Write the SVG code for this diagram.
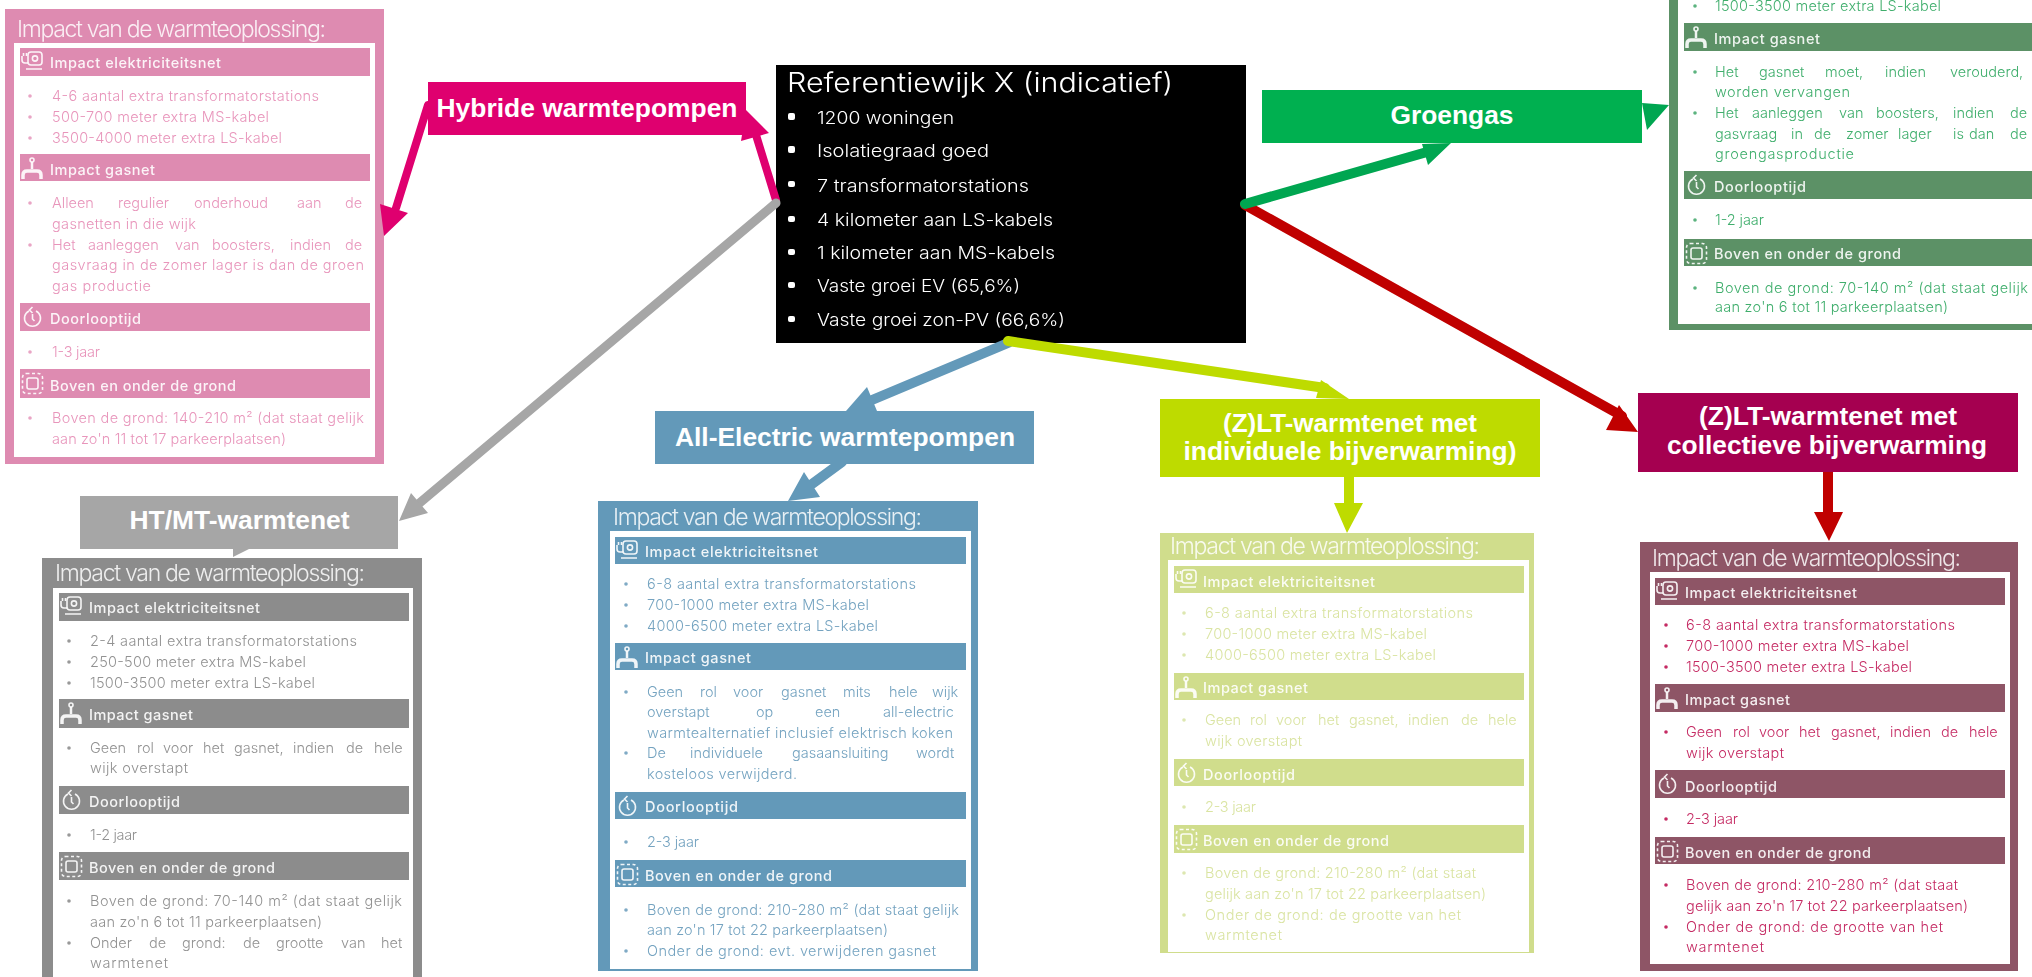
<svg xmlns="http://www.w3.org/2000/svg" width="2032" height="977" viewBox="0 0 2032 977">
<style>
text{font-family:"Inter","Lato","Liberation Sans",sans-serif}
.inner{fill:#fff}
.title{font-size:23px;font-weight:300;fill:#fff;fill-opacity:.85}
.hd{font-size:14.5px;font-weight:500;fill:#fff;fill-opacity:.9}
.li{font-size:14.5px;font-weight:300}
.pk .frame,.pk .bar{fill:#DE8BB1}.pk .li{fill:#E895BB}.pk circle{fill:#E9A5C5}
.gy .frame,.gy .bar{fill:#8C8C8C}.gy .li{fill:#929292}.gy circle{fill:#999}
.bl .frame,.bl .bar{fill:#6399B9}.bl .li{fill:#74A3C0}.bl circle{fill:#7FAAC5}
.gn .frame,.gn .bar{fill:#5C9166}.gn .li{fill:#3FAE6C}.gn circle{fill:#5BB37F}
.lm .frame,.lm .bar{fill:#D0DD8C}.lm .li{fill:#DAE4A2}.lm circle{fill:#DDE7B0}
.mg .frame,.mg .bar{fill:#8E5566}.mg .li{fill:#C52A63}.mg circle{fill:#C52A63}
.ic{fill:none;stroke:#fff;stroke-opacity:.9;stroke-width:1.6}
.lab{font-family:"Liberation Sans",Arial,sans-serif;font-weight:700;font-size:26px;fill:#fff;text-anchor:middle}
.box{font-weight:300;fill:#fff}
.c{fill:none;stroke-linecap:round}
</style>
<defs>
<filter id="soft" x="0" y="0" width="1" height="1"><feGaussianBlur stdDeviation="0.5"/></filter>
<g id="ic-plug" class="ic"><rect x="8" y="4" width="14" height="13" rx="3"/><circle cx="15" cy="10.500" r="2.600"/><path d="M2 8v4q0 3 3 3h3M3.500 8v-3M6.500 8v-3M6 21h16"/></g>
<g id="ic-gas" class="ic"><circle cx="12" cy="6" r="2"/><path d="M12 8v7" style="stroke-width:2.500"/><path d="M3 25v-4q0-4 4-4h10q4 0 4 4v4" style="stroke-width:3.500"/></g>
<g id="ic-clock" class="ic"><path d="M9 8a8 8 0 1 0 7 0M12.500 4l-3 3 3 3M12.500 11v5l2 2"/></g>
<g id="ic-ground" class="ic"><rect x="2.500" y="4.500" width="20" height="20" rx="4" stroke-dasharray="3 2.500"/><rect x="7" y="9" width="11" height="11" rx="2"/></g>
</defs>
<rect width="2032" height="977" fill="#fff"/>

<g id="panel-hybride" class="pk" filter="url(#soft)">
<rect class="frame" x="5" y="9" width="379" height="455"/><rect class="inner" x="14" y="43" width="361" height="414"/>
<text class="title" x="17" y="37" textLength="309">Impact van de warmteoplossing:</text>
<rect class="bar" x="20" y="48" width="350" height="28"/><rect class="bar" x="20" y="154" width="350" height="27"/><rect class="bar" x="20" y="303" width="350" height="28"/><rect class="bar" x="20" y="369" width="350" height="29"/>
<use href="#ic-plug" x="20" y="48"/><use href="#ic-gas" x="20" y="154"/><use href="#ic-clock" x="20" y="303"/><use href="#ic-ground" x="20" y="369"/>
<text class="hd" x="50" y="68" textLength="171">Impact elektriciteitsnet</text><text class="hd" x="50" y="175" textLength="105">Impact gasnet</text><text class="hd" x="50" y="324" textLength="91">Doorlooptijd</text><text class="hd" x="50" y="391" textLength="186">Boven en onder de grond</text>
<circle cx="30" cy="96" r="1.800"/><circle cx="30" cy="117" r="1.800"/><circle cx="30" cy="138" r="1.800"/><circle cx="30" cy="203" r="1.800"/><circle cx="30" cy="245" r="1.800"/><circle cx="30" cy="352" r="1.800"/><circle cx="30" cy="418" r="1.800"/>
<text class="li" x="52" y="101" textLength="267">4-6 aantal extra transformatorstations</text>
<text class="li" x="52" y="122" textLength="217">500-700 meter extra MS-kabel</text>
<text class="li" x="52" y="143" textLength="230">3500-4000 meter extra LS-kabel</text>
<text class="li" y="208"><tspan x="52">Alleen</tspan><tspan x="118">regulier</tspan><tspan x="194">onderhoud</tspan><tspan x="297">aan</tspan><tspan x="345">de</tspan></text>
<text class="li" x="52" y="229" textLength="144">gasnetten in die wijk</text>
<text class="li" y="250"><tspan x="52">Het</tspan><tspan x="88">aanleggen</tspan><tspan x="175">van</tspan><tspan x="212">boosters,</tspan><tspan x="290">indien</tspan><tspan x="345">de</tspan></text>
<text class="li" x="52" y="270" textLength="312">gasvraag in de zomer lager is dan de groen</text>
<text class="li" x="52" y="291" textLength="99">gas productie</text>
<text class="li" x="52" y="357" textLength="48">1-3 jaar</text>
<text class="li" x="52" y="423" textLength="312">Boven de grond: 140-210 m² (dat staat gelijk</text>
<text class="li" x="52" y="444" textLength="234">aan zo'n 11 tot 17 parkeerplaatsen)</text>
</g>

<g id="panel-ht-mt" class="gy" filter="url(#soft)">
<rect class="frame" x="42" y="558" width="380" height="419"/><rect class="inner" x="53" y="588" width="360" height="389"/>
<text class="title" x="55" y="581" textLength="310">Impact van de warmteoplossing:</text>
<rect class="bar" x="59" y="593" width="350" height="28"/><rect class="bar" x="59" y="699" width="350" height="29"/><rect class="bar" x="59" y="786" width="350" height="28"/><rect class="bar" x="59" y="852" width="350" height="28"/>
<use href="#ic-plug" x="59" y="593"/><use href="#ic-gas" x="59" y="699"/><use href="#ic-clock" x="59" y="786"/><use href="#ic-ground" x="59" y="852"/>
<text class="hd" x="89" y="613" textLength="171">Impact elektriciteitsnet</text><text class="hd" x="89" y="720" textLength="104">Impact gasnet</text><text class="hd" x="89" y="807" textLength="91">Doorlooptijd</text><text class="hd" x="89" y="873" textLength="186">Boven en onder de grond</text>
<circle cx="69" cy="641" r="1.800"/><circle cx="69" cy="662" r="1.800"/><circle cx="69" cy="683" r="1.800"/><circle cx="69" cy="748" r="1.800"/><circle cx="69" cy="835" r="1.800"/><circle cx="69" cy="901" r="1.800"/><circle cx="69" cy="943" r="1.800"/>
<text class="li" x="90" y="646" textLength="267">2-4 aantal extra transformatorstations</text>
<text class="li" x="90" y="667" textLength="216">250-500 meter extra MS-kabel</text>
<text class="li" x="90" y="688" textLength="225">1500-3500 meter extra LS-kabel</text>
<text class="li" y="753"><tspan x="90">Geen</tspan><tspan x="137">rol</tspan><tspan x="163">voor</tspan><tspan x="203">het</tspan><tspan x="234">gasnet,</tspan><tspan x="293">indien</tspan><tspan x="346">de</tspan><tspan x="374">hele</tspan></text>
<text class="li" x="90" y="773" textLength="98">wijk overstapt</text>
<text class="li" x="90" y="840" textLength="47">1-2 jaar</text>
<text class="li" x="90" y="906" textLength="312">Boven de grond: 70-140 m² (dat staat gelijk</text>
<text class="li" x="90" y="927" textLength="232">aan zo'n 6 tot 11 parkeerplaatsen)</text>
<text class="li" y="948"><tspan x="90">Onder</tspan><tspan x="149">de</tspan><tspan x="182">grond:</tspan><tspan x="243">de</tspan><tspan x="276">grootte</tspan><tspan x="341">van</tspan><tspan x="381">het</tspan></text>
<text class="li" x="90" y="968" textLength="78">warmtenet</text>
</g>

<g id="panel-all-electric" class="bl" filter="url(#soft)">
<rect class="frame" x="598" y="501" width="380" height="470"/><rect class="inner" x="610" y="531" width="361" height="438"/>
<text class="title" x="613" y="525" textLength="309">Impact van de warmteoplossing:</text>
<rect class="bar" x="615" y="537" width="351" height="27"/><rect class="bar" x="615" y="643" width="351" height="27"/><rect class="bar" x="615" y="792" width="351" height="27"/><rect class="bar" x="615" y="860" width="351" height="27"/>
<use href="#ic-plug" x="615" y="537"/><use href="#ic-gas" x="615" y="643"/><use href="#ic-clock" x="615" y="792"/><use href="#ic-ground" x="615" y="860"/>
<text class="hd" x="645" y="557" textLength="173">Impact elektriciteitsnet</text><text class="hd" x="645" y="663" textLength="106">Impact gasnet</text><text class="hd" x="645" y="812" textLength="93">Doorlooptijd</text><text class="hd" x="645" y="881" textLength="187">Boven en onder de grond</text>
<circle cx="626" cy="584" r="1.800"/><circle cx="626" cy="605" r="1.800"/><circle cx="626" cy="626" r="1.800"/><circle cx="626" cy="692" r="1.800"/><circle cx="626" cy="753" r="1.800"/><circle cx="626" cy="842" r="1.800"/><circle cx="626" cy="910" r="1.800"/><circle cx="626" cy="951" r="1.800"/>
<text class="li" x="647" y="589" textLength="269">6-8 aantal extra transformatorstations</text>
<text class="li" x="647" y="610" textLength="222">700-1000 meter extra MS-kabel</text>
<text class="li" x="647" y="631" textLength="231">4000-6500 meter extra LS-kabel</text>
<text class="li" y="697"><tspan x="647">Geen</tspan><tspan x="700">rol</tspan><tspan x="733">voor</tspan><tspan x="781">gasnet</tspan><tspan x="843">mits</tspan><tspan x="889">hele</tspan><tspan x="932">wijk</tspan></text>
<text class="li" y="717"><tspan x="647">overstapt</tspan><tspan x="756">op</tspan><tspan x="815">een</tspan><tspan x="883">all-electric</tspan></text>
<text class="li" x="647" y="738" textLength="306">warmtealternatief inclusief elektrisch koken</text>
<text class="li" y="758"><tspan x="647">De</tspan><tspan x="690">individuele</tspan><tspan x="792">gasaansluiting</tspan><tspan x="916">wordt</tspan></text>
<text class="li" x="647" y="779" textLength="150">kosteloos verwijderd.</text>
<text class="li" x="647" y="847" textLength="52">2-3 jaar</text>
<text class="li" x="647" y="915" textLength="312">Boven de grond: 210-280 m² (dat staat gelijk</text>
<text class="li" x="647" y="935" textLength="241">aan zo'n 17 tot 22 parkeerplaatsen)</text>
<text class="li" x="647" y="956" textLength="289">Onder de grond: evt. verwijderen gasnet</text>
</g>

<g id="panel-lt-individueel" class="lm" filter="url(#soft)">
<rect class="frame" x="1160" y="533" width="374" height="420"/><rect class="inner" x="1168" y="560" width="361" height="392"/>
<text class="title" x="1170" y="554" textLength="310">Impact van de warmteoplossing:</text>
<rect class="bar" x="1174" y="566" width="350" height="27"/><rect class="bar" x="1174" y="673" width="350" height="27"/><rect class="bar" x="1174" y="759" width="350" height="27"/><rect class="bar" x="1174" y="825" width="350" height="28"/>
<use href="#ic-plug" x="1174" y="566"/><use href="#ic-gas" x="1174" y="673"/><use href="#ic-clock" x="1174" y="759"/><use href="#ic-ground" x="1174" y="825"/>
<text class="hd" x="1203" y="587" textLength="172">Impact elektriciteitsnet</text><text class="hd" x="1203" y="693" textLength="105">Impact gasnet</text><text class="hd" x="1203" y="780" textLength="92">Doorlooptijd</text><text class="hd" x="1203" y="846" textLength="186">Boven en onder de grond</text>
<circle cx="1184" cy="613" r="1.800"/><circle cx="1184" cy="634" r="1.800"/><circle cx="1184" cy="655" r="1.800"/><circle cx="1184" cy="720" r="1.800"/><circle cx="1184" cy="807" r="1.800"/><circle cx="1184" cy="873" r="1.800"/><circle cx="1184" cy="915" r="1.800"/>
<text class="li" x="1205" y="618" textLength="268">6-8 aantal extra transformatorstations</text>
<text class="li" x="1205" y="639" textLength="222">700-1000 meter extra MS-kabel</text>
<text class="li" x="1205" y="660" textLength="231">4000-6500 meter extra LS-kabel</text>
<text class="li" y="725"><tspan x="1205">Geen</tspan><tspan x="1250">rol</tspan><tspan x="1276">voor</tspan><tspan x="1318">het</tspan><tspan x="1349">gasnet,</tspan><tspan x="1408">indien</tspan><tspan x="1461">de</tspan><tspan x="1488">hele</tspan></text>
<text class="li" x="1205" y="746" textLength="97">wijk overstapt</text>
<text class="li" x="1205" y="812" textLength="51">2-3 jaar</text>
<text class="li" x="1205" y="878" textLength="271">Boven de grond: 210-280 m² (dat staat</text>
<text class="li" x="1205" y="899" textLength="281">gelijk aan zo'n 17 tot 22 parkeerplaatsen)</text>
<text class="li" x="1205" y="920" textLength="256">Onder de grond: de grootte van het</text>
<text class="li" x="1205" y="940" textLength="77">warmtenet</text>
</g>

<g id="panel-lt-collectief" class="mg" filter="url(#soft)">
<rect class="frame" x="1640" y="542" width="378" height="429"/><rect class="inner" x="1650" y="572" width="360" height="392"/>
<text class="title" x="1652" y="566" textLength="309">Impact van de warmteoplossing:</text>
<rect class="bar" x="1655" y="578" width="350" height="27"/><rect class="bar" x="1655" y="684" width="350" height="28"/><rect class="bar" x="1655" y="770" width="350" height="28"/><rect class="bar" x="1655" y="837" width="350" height="27"/>
<use href="#ic-plug" x="1655" y="578"/><use href="#ic-gas" x="1655" y="684"/><use href="#ic-clock" x="1655" y="770"/><use href="#ic-ground" x="1655" y="837"/>
<text class="hd" x="1685" y="598" textLength="172">Impact elektriciteitsnet</text><text class="hd" x="1685" y="705" textLength="105">Impact gasnet</text><text class="hd" x="1685" y="792" textLength="92">Doorlooptijd</text><text class="hd" x="1685" y="858" textLength="186">Boven en onder de grond</text>
<circle cx="1666" cy="625" r="1.800"/><circle cx="1666" cy="646" r="1.800"/><circle cx="1666" cy="667" r="1.800"/><circle cx="1666" cy="732" r="1.800"/><circle cx="1666" cy="819" r="1.800"/><circle cx="1666" cy="885" r="1.800"/><circle cx="1666" cy="927" r="1.800"/>
<text class="li" x="1686" y="630" textLength="269">6-8 aantal extra transformatorstations</text>
<text class="li" x="1686" y="651" textLength="223">700-1000 meter extra MS-kabel</text>
<text class="li" x="1686" y="672" textLength="226">1500-3500 meter extra LS-kabel</text>
<text class="li" y="737"><tspan x="1686">Geen</tspan><tspan x="1733">rol</tspan><tspan x="1759">voor</tspan><tspan x="1799">het</tspan><tspan x="1831">gasnet,</tspan><tspan x="1890">indien</tspan><tspan x="1941">de</tspan><tspan x="1969">hele</tspan></text>
<text class="li" x="1686" y="758" textLength="98">wijk overstapt</text>
<text class="li" x="1686" y="824" textLength="52">2-3 jaar</text>
<text class="li" x="1686" y="890" textLength="272">Boven de grond: 210-280 m² (dat staat</text>
<text class="li" x="1686" y="911" textLength="282">gelijk aan zo'n 17 tot 22 parkeerplaatsen)</text>
<text class="li" x="1686" y="932" textLength="257">Onder de grond: de grootte van het</text>
<text class="li" x="1686" y="952" textLength="78">warmtenet</text>
</g>

<g id="panel-groengas" class="gn" filter="url(#soft)">
<rect class="frame" x="1669" y="-2" width="365" height="332"/><rect class="inner" x="1678" y="-2" width="356" height="326"/>
<rect class="bar" x="1684" y="23" width="350" height="28"/><rect class="bar" x="1684" y="171" width="350" height="28"/><rect class="bar" x="1684" y="239" width="350" height="27"/>
<use href="#ic-gas" x="1684" y="23"/><use href="#ic-clock" x="1684" y="171"/><use href="#ic-ground" x="1684" y="239"/>
<text class="hd" x="1714" y="44" textLength="106">Impact gasnet</text><text class="hd" x="1714" y="192" textLength="92">Doorlooptijd</text><text class="hd" x="1714" y="259" textLength="187">Boven en onder de grond</text>
<circle cx="1695" cy="6" r="1.800"/><circle cx="1695" cy="72" r="1.800"/><circle cx="1695" cy="113" r="1.800"/><circle cx="1695" cy="220" r="1.800"/><circle cx="1695" cy="288" r="1.800"/>
<text class="li" x="1715" y="11" textLength="226">1500-3500 meter extra LS-kabel</text>
<text class="li" y="77"><tspan x="1715">Het</tspan><tspan x="1759">gasnet</tspan><tspan x="1825">moet,</tspan><tspan x="1885">indien</tspan><tspan x="1950">verouderd,</tspan></text>
<text class="li" x="1715" y="97" textLength="135">worden vervangen</text>
<text class="li" y="118"><tspan x="1715">Het</tspan><tspan x="1752">aanleggen</tspan><tspan x="1839">van</tspan><tspan x="1876">boosters,</tspan><tspan x="1953">indien</tspan><tspan x="2010">de</tspan></text>
<text class="li" y="139"><tspan x="1715">gasvraag</tspan><tspan x="1791">in</tspan><tspan x="1814">de</tspan><tspan x="1846">zomer</tspan><tspan x="1898">lager</tspan><tspan x="1953">is</tspan><tspan x="1969">dan</tspan><tspan x="2010">de</tspan></text>
<text class="li" x="1715" y="159" textLength="139">groengasproductie</text>
<text class="li" x="1715" y="225" textLength="49">1-2 jaar</text>
<text class="li" x="1715" y="293" textLength="313">Boven de grond: 70-140 m² (dat staat gelijk</text>
<text class="li" x="1715" y="312" textLength="233">aan zo'n 6 tot 11 parkeerplaatsen)</text>
</g>

<g id="referentiewijk">
<rect x="776" y="65" width="470" height="278" fill="#000"/>
<g class="box" filter="url(#soft)">
<text x="787" y="92" font-size="27" textLength="386" lengthAdjust="spacingAndGlyphs">Referentiewijk X (indicatief)</text>
<g fill="#fff"><rect x="788" y="113" width="7" height="7" rx="2"/><rect x="788" y="146" width="7" height="7" rx="2"/><rect x="788" y="181" width="7" height="6" rx="2"/><rect x="788" y="216" width="7" height="6" rx="2"/><rect x="788" y="249" width="7" height="6" rx="2"/><rect x="788" y="282" width="7" height="6" rx="2"/><rect x="788" y="316" width="7" height="6" rx="2"/></g>
<text x="817" y="124" font-size="17" textLength="137" lengthAdjust="spacingAndGlyphs">1200 woningen</text>
<text x="817" y="157" font-size="17" textLength="172" lengthAdjust="spacingAndGlyphs">Isolatiegraad goed</text>
<text x="817" y="192" font-size="17" textLength="212" lengthAdjust="spacingAndGlyphs">7 transformatorstations</text>
<text x="817" y="226" font-size="17" textLength="236" lengthAdjust="spacingAndGlyphs">4 kilometer aan LS-kabels</text>
<text x="817" y="259" font-size="17" textLength="238" lengthAdjust="spacingAndGlyphs">1 kilometer aan MS-kabels</text>
<text x="817" y="292" font-size="17" textLength="203" lengthAdjust="spacingAndGlyphs">Vaste groei EV (65,6%)</text>
<text x="817" y="326" font-size="17" textLength="248" lengthAdjust="spacingAndGlyphs">Vaste groei zon-PV (66,6%)</text>
</g>
</g>

<g id="connectors">
<path class="c" d="M1245 205L1622 416M1828 465V514" stroke="#C00000" stroke-width="10"/>
<path fill="#C00000" d="M1638 432L1606 430L1619 405ZM1829 541L1814 512H1843Z"/>
<path class="c" d="M1008 343L872 400M842 462L812 484" stroke="#6399B9" stroke-width="10"/>
<path fill="#6399B9" d="M867 387L877 411L840 425L846 411ZM804 472L820 497L788 501Z"/>
<path class="c" d="M1008 341L1325 388M1349 470V505" stroke="#BEDB00" stroke-width="10"/>
<path fill="#BEDB00" d="M1321 380L1349 399L1316 398ZM1347 533L1334 503H1363Z"/>
<path class="c" d="M1245 204L1434 150" stroke="#00A651" stroke-width="10"/>
<path fill="#00A651" d="M1422 144L1451 143L1428 165ZM1669 105L1642 103L1647 130Z"/>
<path class="c" d="M776 200L756 135M428 105L396 208" stroke="#DF006F" stroke-width="8"/>
<path fill="#DF006F" d="M769 133L741 141L746 110ZM384 236L380 204L408 213Z"/>
<path class="c" d="M776 203L416 506" stroke="#A6A6A6" stroke-width="9"/>
<path fill="#A6A6A6" d="M399 521L411 493L428 513ZM233 549H249L233 557Z"/>
</g>

<g id="label-hybride"><rect x="428" y="82" width="318" height="53" fill="#DF006F"/><text class="lab" x="587" y="117" textLength="301" lengthAdjust="spacingAndGlyphs">Hybride warmtepompen</text></g>
<g id="label-all-electric"><rect x="655" y="411" width="379" height="53" fill="#6399B9"/><text class="lab" x="845" y="446" textLength="340" lengthAdjust="spacingAndGlyphs">All-Electric warmtepompen</text></g>
<g id="label-groengas"><rect x="1262" y="90" width="380" height="53" fill="#00B050"/><text class="lab" x="1452" y="124" textLength="123" lengthAdjust="spacingAndGlyphs">Groengas</text></g>
<g id="label-ht-mt"><rect x="80" y="496" width="318" height="53" fill="#A6A6A6"/><text class="lab" x="239.500" y="529" textLength="220" lengthAdjust="spacingAndGlyphs">HT/MT-warmtenet</text></g>
<g id="label-lt-individueel"><rect x="1160" y="399" width="380" height="78" fill="#BEDB00"/><text class="lab" x="1350" y="432" textLength="254" lengthAdjust="spacingAndGlyphs">(Z)LT-warmtenet met</text><text class="lab" x="1350" y="460" textLength="333" lengthAdjust="spacingAndGlyphs">individuele bijverwarming)</text></g>
<g id="label-lt-collectief"><rect x="1638" y="393" width="380" height="79" fill="#A50050"/><text class="lab" x="1828" y="425" textLength="258" lengthAdjust="spacingAndGlyphs">(Z)LT-warmtenet met</text><text class="lab" x="1827" y="454" textLength="320" lengthAdjust="spacingAndGlyphs">collectieve bijverwarming</text></g>
</svg>
